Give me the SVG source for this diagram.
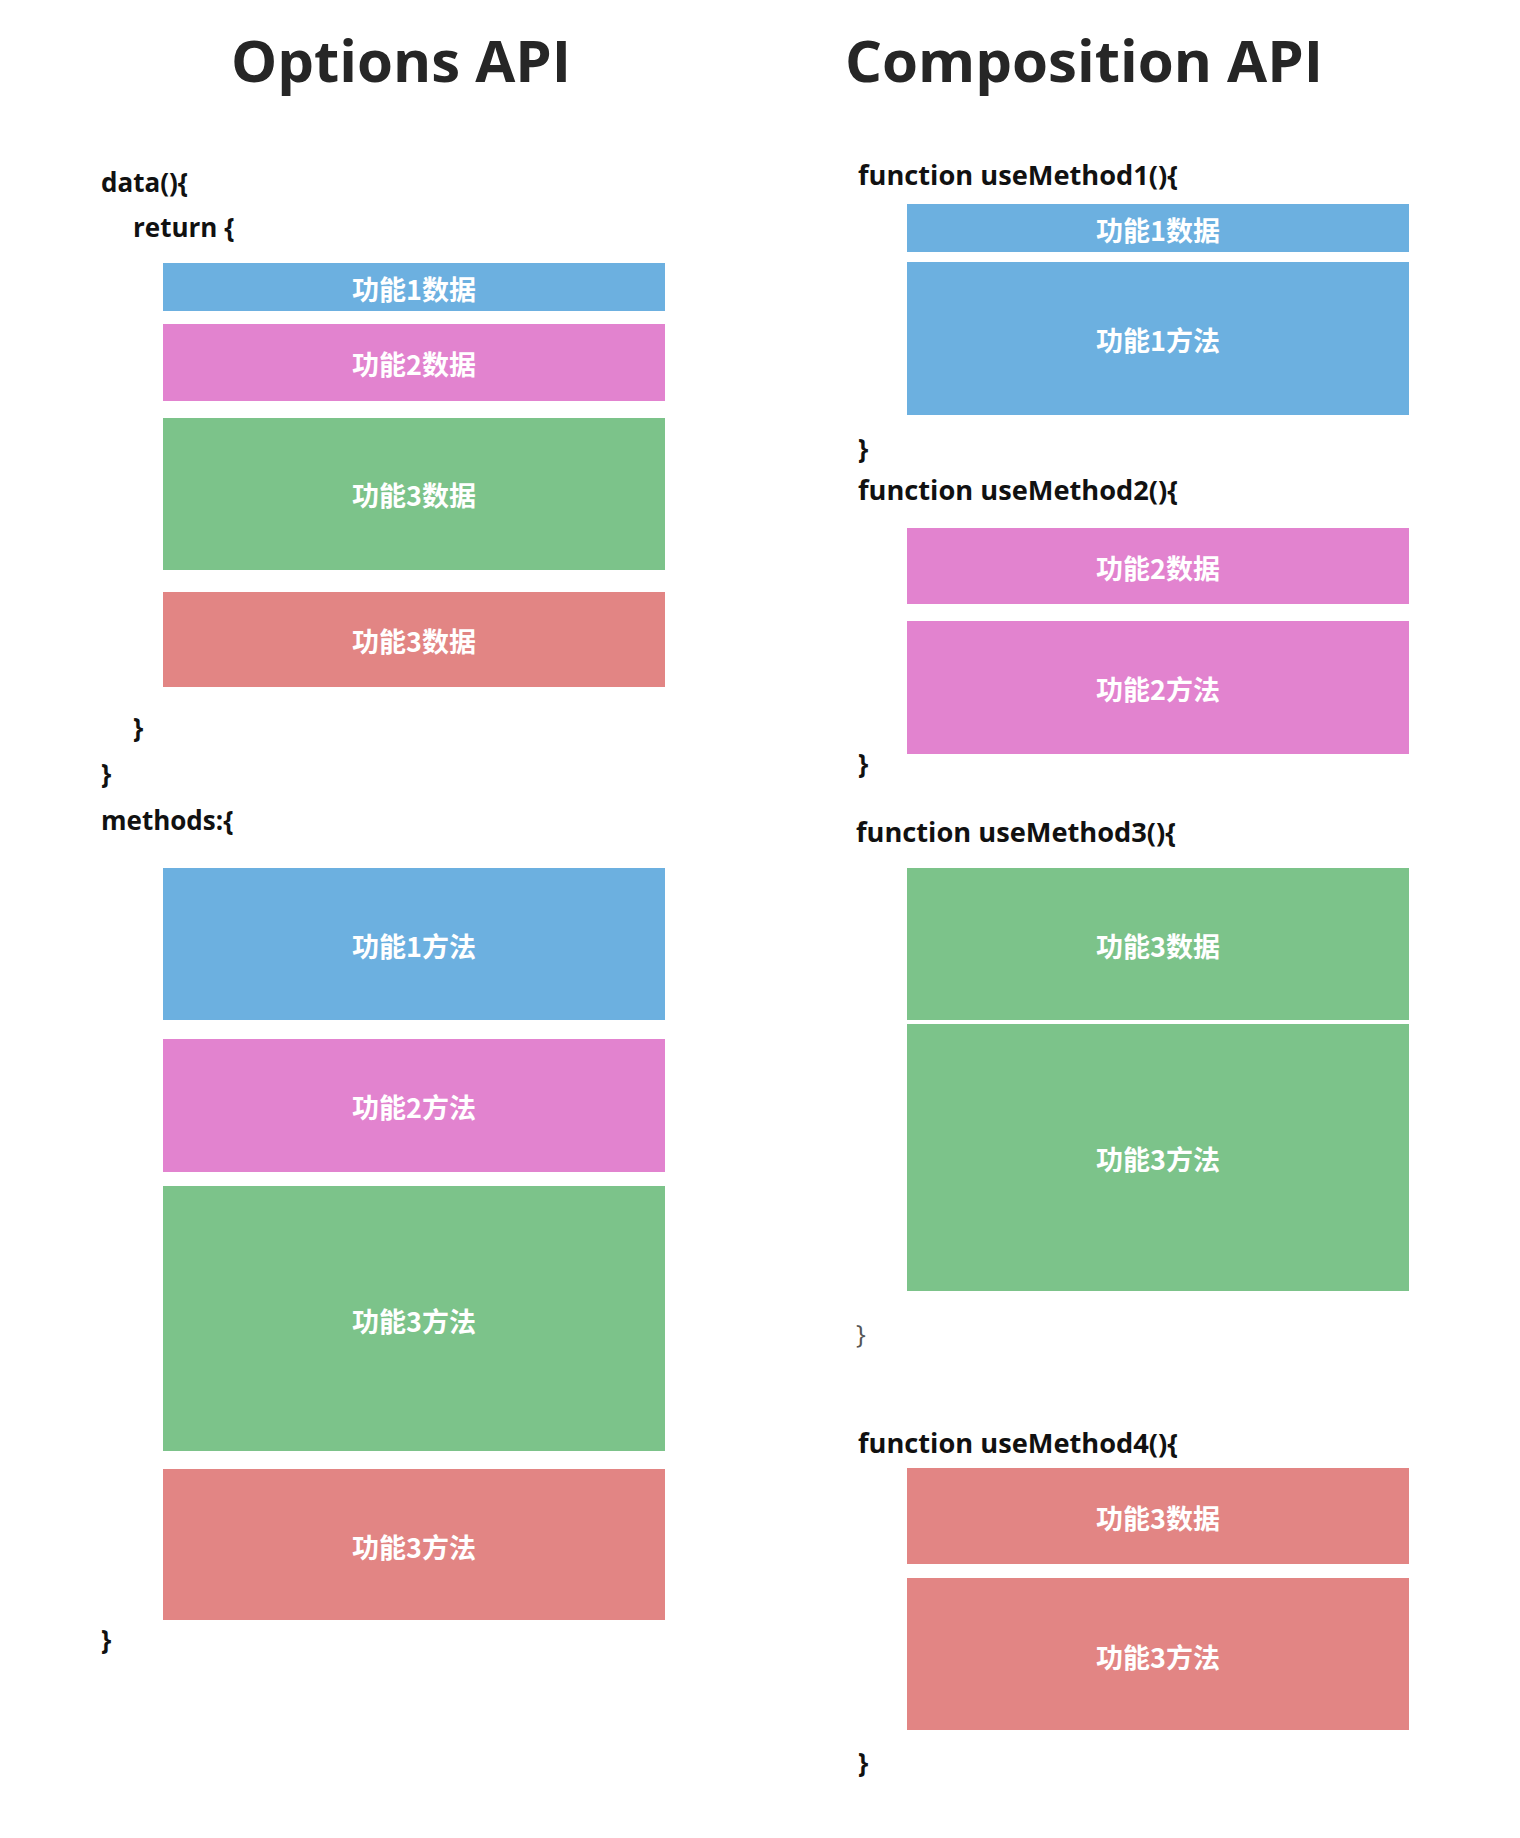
<svg xmlns="http://www.w3.org/2000/svg" width="1520" height="1838" viewBox="0 0 1520 1838">
<style>
.title{font-family:"Open Sans","Liberation Sans",sans-serif;font-weight:700;font-size:58px;fill:#262626}
.code{font-family:"Open Sans","Liberation Sans",sans-serif;font-weight:700;font-size:26px;fill:#111}
.brace-light{font-family:"Open Sans","Liberation Sans",sans-serif;font-weight:400;font-size:26px;fill:#555}
.lbl{font-family:"Noto Sans CJK SC","Noto Sans",sans-serif;font-weight:700;font-size:27px;fill:#fff;text-anchor:middle;dominant-baseline:central}
.blue{fill:#6cb0e0}
.pink{fill:#e283cf}
.green{fill:#7cc38a}
.red{fill:#e28584}
</style>
<rect width="1520" height="1838" fill="#fff"/>

<g id="titles">
<text class="title" x="231" y="82" textLength="340" lengthAdjust="spacingAndGlyphs">Options API</text>
<text class="title" x="845" y="82" textLength="478" lengthAdjust="spacingAndGlyphs">Composition API</text>
</g>

<g id="options-code">
<text class="code" x="101" y="192">data(){</text>
<text class="code" x="133" y="237">return {</text>
<text class="code" x="133" y="737">}</text>
<text class="code" x="101" y="783">}</text>
<text class="code" x="101" y="830">methods:{</text>
<text class="code" x="101" y="1649">}</text>
</g>

<g id="opt-data1"><rect class="blue" x="163" y="263" width="502" height="48"/><text class="lbl" x="414" y="288">功能1数据</text></g>
<g id="opt-data2"><rect class="pink" x="163" y="324" width="502" height="77"/><text class="lbl" x="414" y="363">功能2数据</text></g>
<g id="opt-data3"><rect class="green" x="163" y="418" width="502" height="152"/><text class="lbl" x="414" y="494">功能3数据</text></g>
<g id="opt-data4"><rect class="red" x="163" y="592" width="502" height="95"/><text class="lbl" x="414" y="640">功能3数据</text></g>
<g id="opt-method1"><rect class="blue" x="163" y="868" width="502" height="152"/><text class="lbl" x="414" y="945">功能1方法</text></g>
<g id="opt-method2"><rect class="pink" x="163" y="1039" width="502" height="133"/><text class="lbl" x="414" y="1106">功能2方法</text></g>
<g id="opt-method3"><rect class="green" x="163" y="1186" width="502" height="265"/><text class="lbl" x="414" y="1320">功能3方法</text></g>
<g id="opt-method4"><rect class="red" x="163" y="1469" width="502" height="151"/><text class="lbl" x="414" y="1546">功能3方法</text></g>

<g id="composition-code">
<text class="code" x="858" y="185" textLength="320" lengthAdjust="spacingAndGlyphs">function useMethod1(){</text>
<text class="code" x="858" y="458">}</text>
<text class="code" x="858" y="500" textLength="320" lengthAdjust="spacingAndGlyphs">function useMethod2(){</text>
<text class="code" x="858" y="773">}</text>
<text class="code" x="856" y="842" textLength="320" lengthAdjust="spacingAndGlyphs">function useMethod3(){</text>
<text class="brace-light" x="856" y="1343">}</text>
<text class="code" x="858" y="1453" textLength="320" lengthAdjust="spacingAndGlyphs">function useMethod4(){</text>
<text class="code" x="858" y="1772">}</text>
</g>

<g id="comp-data1"><rect class="blue" x="907" y="204" width="502" height="48"/><text class="lbl" x="1158" y="229">功能1数据</text></g>
<g id="comp-method1"><rect class="blue" x="907" y="262" width="502" height="153"/><text class="lbl" x="1158" y="339">功能1方法</text></g>
<g id="comp-data2"><rect class="pink" x="907" y="528" width="502" height="76"/><text class="lbl" x="1158" y="567">功能2数据</text></g>
<g id="comp-method2"><rect class="pink" x="907" y="621" width="502" height="133"/><text class="lbl" x="1158" y="688">功能2方法</text></g>
<g id="comp-data3"><rect class="green" x="907" y="868" width="502" height="152"/><text class="lbl" x="1158" y="945">功能3数据</text></g>
<g id="comp-method3"><rect class="green" x="907" y="1024" width="502" height="267"/><text class="lbl" x="1158" y="1158">功能3方法</text></g>
<g id="comp-data4"><rect class="red" x="907" y="1468" width="502" height="96"/><text class="lbl" x="1158" y="1517">功能3数据</text></g>
<g id="comp-method4"><rect class="red" x="907" y="1578" width="502" height="152"/><text class="lbl" x="1158" y="1656">功能3方法</text></g>

<g id="connectors"/>
</svg>
